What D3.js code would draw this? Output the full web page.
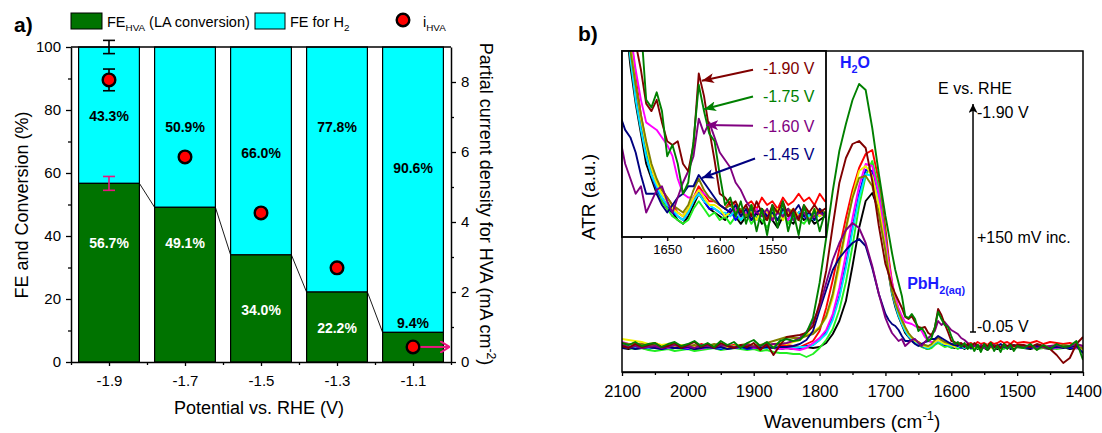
<!DOCTYPE html>
<html>
<head>
<meta charset="utf-8">
<script src="https://cdn.jsdelivr.net/npm/d3@7"></script>
<style>
  body { margin: 0; background: #fff; }
  text { font-family: Arial, "Liberation Sans", sans-serif; }
</style>
</head>
<body>
<svg id="chart" width="1102" height="433"></svg>
<script>
// ---------- panel a data ----------
const potentials = [-1.9, -1.7, -1.5, -1.3, -1.1];
const feHVA = [56.7, 49.1, 34.0, 22.2, 9.4];
const feH2 = [43.3, 50.9, 66.0, 77.8, 90.6];
const iHVA = [8.06, 5.86, 4.26, 2.69, 0.43];
const iHVAErr = [0.31, null, null, null, null];
const feHVAErr = [2.2, null, null, null, null];
const feTotalErr = [2.1, null, null, null, null];
// where the percentage labels sit (FE units)
const h2LabelAt = [78, 74.5, 66.5, 74.5, 61.5];
const hvaLabelAt = [37.8, 37.8, 16.5, 10.8, 12.4];

// ---------- panel b data ----------
const wavenumbers = [
  2100, 2090, 2080, 2070, 2060, 2050, 2040, 2030, 2020, 2010, 2000, 1990, 1980, 1970, 1960, 1950, 1940, 1930, 1920, 1910, 1900, 1890, 1880, 1870, 1860,
  1850, 1840, 1830, 1820, 1810, 1800, 1790, 1780, 1770, 1760, 1750, 1740, 1730, 1720, 1710, 1700,
  1695, 1690, 1685, 1680, 1675, 1670, 1665, 1660, 1655, 1650, 1645, 1640, 1635, 1630, 1625, 1620, 1615, 1610, 1605, 1600,
  1595, 1590, 1585, 1580, 1575, 1570, 1565, 1560, 1555, 1550, 1545, 1540, 1535, 1530, 1525, 1520, 1515, 1510, 1505, 1500,
  1490, 1480, 1470, 1460, 1450, 1440, 1430, 1420, 1410, 1400
];
const atrBlack = [
  -2, -3, -1, -2, -3, -1, -2, -3, -2, -1, -2, -3, -2, -1, -2, -3, -1, -2, -2, -1, -3, -2, -1, -2, -3,
  -2, -3, -2, -1, -2, -1, 3, 12, 25, 45, 80, 118, 145, 153, 135, 98,
  72, 52, 39, 29, 21, 13, 9, 5, 3, 1, 0, -2, -3, -1, 2, 5, 3, 1, 0, -1, -2, 0, -1, -3, -1, -2, 0, -3, -1, -2, -4, -1, -2, -3, 0, -2, -1, -3, -2, -1,
  -2, -3, -1, -2, -3, -2, -1, -3, -2, -3
];
const atrRed = [
  2, 1, 3, 0, 2, 1, -1, 1, 2, 0, 1, -1, 2, 0, 1, 2, 0, 1, -1, 2, 0, 1, 0, 2, 1,
  1, 0, -1, 2, 5, 15, 38, 66, 97, 128, 156, 178, 192, 196, 165, 118,
  88, 64, 48, 36, 26, 18, 12, 8, 6, 4, 2, 0, -1, 1, 4, 7, 5, 3, 3, 2, 1, 3, 2, 0, 2, 3, 1, 4, 2, 3, 1, 4, 2, 3, 5, 3, 4, 2, 5, 3,
  4, 3, 5, 2, 4, 3, 2, 3, 1, 0
];
const atrLime = [
  0, -2, -3, -2, -4, -5, -4, -3, -5, -4, -3, -5, -4, -3, -2, -4, -3, -2, -3, -4, -3, -5, -4, -6, -7,
  -7, -8, -8, -11, -8, -2, 6, 17, 36, 64, 100, 140, 170, 185, 158, 110,
  82, 60, 45, 34, 24, 16, 10, 6, 3, 1, -1, -2, -3, -2, 1, 3, 1, -1, 0, -2, -1, -3, -1, -2, 0, -3, -1, -2, -4, -1, -2, 0, -3, -1, -2, -3, -1, -2, 0, -1,
  -2, -1, -3, -2, -1, -3, -2, -1, 0, -2
];
const atrBlue = [
  -1, -2, 0, -1, -2, -1, -3, -2, -1, -2, -3, -1, -2, -1, -2, -3, -1, -2, -1, -3, -2, -1, -2, -1, -2,
  -1, -2, -2, 0, 1, 6, 14, 28, 50, 82, 118, 152, 176, 175, 150, 105,
  78, 57, 43, 33, 23, 15, 10, 6, 4, 2, 0, -1, -2, 0, 3, 6, 3, 1, 1, 0, -1, 1, -2, 0, -1, 1, -2, 0, -1, -2, 0, -1, 1, -2, 0, -1, -2, 0, -1, 0,
  -1, -2, 0, -1, -2, -1, 0, -2, -1, -3
];
const atrCyan = [
  1, 0, -1, 0, -2, -1, 0, -2, -1, 0, -1, -2, -1, 0, -1, -2, 0, -1, -2, -1, 0, -1, -2, -1, -2,
  -1, -2, -1, -1, 1, 6, 12, 26, 48, 78, 115, 148, 172, 170, 145, 100,
  74, 53, 41, 30, 22, 15, 10, 7, 4, 2, 1, -1, -2, 0, 3, 5, 3, 2, 1, 0, 0, -1, 1, -2, 0, -1, -2, 0, -1, 1, -2, 0, -1, -2, 0, 1, -1, -2, 0, -1,
  -1, 0, -2, -1, 0, -2, -1, 0, -1, -2
];
const atrMagenta = [
  4, 2, 1, 3, 0, -1, 1, -2, 0, -1, -2, 0, -3, -1, -2, 0, -1, -2, -1, 0, -2, -1, 0, -2, -3,
  -2, -3, -4, -2, 3, 8, 16, 32, 58, 92, 128, 160, 182, 180, 152, 105,
  82, 63, 48, 38, 30, 24, 23, 22, 20, 18, 15, 9, 5, 4, 4, 6, 5, 4, 3, 2, 1, 0, 1, -1, 0, -2, 1, -1, 0, -2, 0, -1, -2, 1, -1, 0, -2, -1, 0, -1,
  0, -1, -2, 0, -1, -2, -1, 0, -2, -1
];
const atrYellow = [
  7, 6, 5, 4, 2, 3, 1, 2, 0, 1, -1, 0, 1, -1, 0, 1, -1, 0, 1, 0, -1, 1, 0, 2, 3,
  2, 4, 6, 11, 14, 19, 28, 48, 80, 115, 150, 175, 180, 170, 140, 98,
  76, 57, 44, 34, 25, 18, 12, 8, 5, 3, 1, 0, -1, 1, 4, 6, 4, 2, 2, 1, -1, 0, 2, -1, 1, 0, -2, 1, 0, -1, 1, -2, 0, 1, -1, 0, -2, 1, -1, 0,
  -1, 0, -2, -1, 0, -1, -2, 0, 2, -4
];
const atrOlive = [
  3, 2, 1, 2, 0, 1, -1, 0, 1, -1, 0, 1, -1, 0, 2, 0, 1, -1, 1, 2, 0, 1, 3, 5, 7,
  9, 8, 8, 10, 12, 18, 30, 52, 85, 118, 148, 168, 170, 160, 132, 95,
  72, 55, 43, 34, 26, 19, 13, 9, 6, 4, 2, 1, 0, 2, 6, 9, 6, 4, 3, 2, 1, 2, 0, 1, -1, 2, 0, 1, -2, 1, 0, -1, 1, 0, -2, 1, 0, -1, 1, 0,
  0, -1, 1, -2, 0, -1, 1, 0, -1, -2
];
const atrNavy = [
  -2, -1, -3, -2, -1, -2, -3, -1, -2, -2, -1, -3, -2, -1, -2, -1, -3, -2, -1, -2, -1, -2, -1, -2, -1,
  -1, 0, 2, 6, 15, 36, 56, 76, 88, 96, 103, 107, 100, 78, 52, 32,
  26, 22, 20, 16, 10, 5, 5, 5, 2, 0, 2, 4, 5, 7, 7, 10, 8, 6, 4, 2, 1, 0, 2, -1, 1, -2, 0, 1, -1, 0, -2, 1, -1, 0, 2, -1, 0, -2, 1, -1,
  -1, -2, 0, -1, -2, -1, -2, -1, 0, -7
];
const atrPurple = [
  1, -1, 0, -2, -1, 0, -2, -1, 1, -1, 0, -2, 1, 0, -1, 1, 0, -1, 0, 1, -1, 0, 1, 2, 2,
  3, 5, 8, 14, 24, 39, 63, 86, 103, 116, 123, 118, 103, 80, 52, 28,
  20, 13, 9, 5, 7, 0, 3, 6, 7, 3, 0, 4, 8, 11, 15, 25, 21, 24, 20, 16, 14, 12, 8, 6, 3, 1, 0, -1, 1, -2, 0, -1, 1, -2, -1, 0, -2, -1, 0, -1,
  -1, 0, -2, -1, 0, 1, -1, 0, 2, 0
];
const atrWine = [
  0, -2, 2, -1, 1, 3, -1, 0, 3, -2, 1, 4, -1, 2, -2, 3, 0, -2, 1, -1, 3, -4, 2, -9, 1,
  9, 10, 11, 13, 20, 43, 75, 120, 163, 188, 202, 205, 198, 165, 120, 82,
  72, 60, 52, 45, 38, 29, 27, 30, 24, 19, 18, 19, 13, 11, 18, 37, 31, 22, 14, 5, 4, 2, 3, 0, 2, -1, 3, 0, -2, 2, 0, 3, -1, 1, -2, 2, 0, 2, 0, 1,
  1, -1, 2, 0, -3, -9, -17, -12, 2, 9
];
const atrGreen = [
  3, 1, 4, 0, 2, 3, -1, 2, 4, 0, 2, 5, 0, 3, -1, 5, 1, 4, -2, 3, 6, 0, 4, -2, 5,
  7, 5, 6, 13, 28, 63, 108, 155, 195, 222, 246, 262, 256, 218, 172, 130,
  112, 93, 76, 63, 50, 30, 28, 32, 27, 15, 18, 13, 5, 8, 19, 34, 27, 21, 19, 10, 2, 4, -1, 3, -3, 2, -5, 1, -6, 2, -4, 3, -5, 0, -6, 2, -3, 1, -5, 0,
  -2, 2, -4, 1, -3, 2, -1, 0, 5, -14
];
const insetLabels = ['-1.90 V', '-1.75 V', '-1.60 V', '-1.45 V'];

const traces = [
  { values: atrBlack, color: '#000000' },
  { values: atrRed, color: '#ff0000' },
  { values: atrLime, color: '#22ee22' },
  { values: atrBlue, color: '#0000ff' },
  { values: atrCyan, color: '#00e5ff' },
  { values: atrMagenta, color: '#ff00ff' },
  { values: atrYellow, color: '#f2f200' },
  { values: atrOlive, color: '#808000' },
  { values: atrNavy, color: '#000080' },
  { values: atrPurple, color: '#800080' },
  { values: atrWine, color: '#800000' },
  { values: atrGreen, color: '#008000' }
];

const svg = d3.select('#chart');
const defs = svg.append('defs');
const FONT = 'Arial, "Liberation Sans", sans-serif';

// text with sub/superscripts
function richText(parent, x, y, size, parts) {
  const t = parent.append('text').attr('x', x).attr('y', y).attr('font-size', size);
  let shift = 0;
  parts.forEach(p => {
    const target = p.sub ? size * 0.3 : p.sup ? -size * 0.4 : 0;
    t.append('tspan')
      .attr('dy', target - shift)
      .attr('font-size', p.sub || p.sup ? size * 0.68 : size)
      .text(p.t);
    shift = target;
  });
  return t;
}

function styleAxis(g, size) {
  g.attr('font-family', FONT);
  g.selectAll('path.domain').attr('stroke', '#000').attr('stroke-width', 1.5);
  g.selectAll('line').attr('stroke', '#000').attr('stroke-width', 1.3);
  g.selectAll('text').attr('font-size', size).attr('fill', '#000');
}

function arrowMarker(id, color, w, h) {
  defs.append('marker')
    .attr('id', id)
    .attr('viewBox', `0 0 ${w} ${h}`)
    .attr('refX', w).attr('refY', h / 2)
    .attr('markerWidth', w).attr('markerHeight', h)
    .attr('markerUnits', 'userSpaceOnUse')
    .attr('orient', 'auto')
    .append('path')
    .attr('d', `M0,0 L${w},${h / 2} L0,${h} L${w * 0.25},${h / 2} Z`)
    .attr('fill', color);
}

// ================= panel a =================
const xA = d3.scaleLinear().domain([-2.0, -1.0]).range([71, 451]);
const yFE = d3.scaleLinear().domain([0, 100]).range([362, 47]);
const yI = d3.scaleLinear().domain([0, 9]).range([362, 47]);
const barW = xA(-1.84) - xA(-2.0);
const green = '#007300';
const cyan = '#00ffff';
const pink = '#e8177f';

svg.append('text').attr('x', 14).attr('y', 32).attr('font-size', 21)
  .attr('font-weight', 'bold').text('a)');

// legend
const leg = svg.append('g');
leg.append('rect').attr('x', 71).attr('y', 13).attr('width', 31).attr('height', 16)
  .attr('fill', green).attr('stroke', '#000').attr('stroke-width', 1);
richText(leg, 107, 26.5, 14.5, [{ t: 'FE' }, { t: 'HVA', sub: true }, { t: ' (LA conversion)' }]);
leg.append('rect').attr('x', 255).attr('y', 13).attr('width', 30).attr('height', 16)
  .attr('fill', cyan).attr('stroke', '#000').attr('stroke-width', 1);
richText(leg, 290, 26.5, 14.5, [{ t: 'FE for H' }, { t: '2', sub: true }]);
leg.append('circle').attr('cx', 403).attr('cy', 20).attr('r', 6.3)
  .attr('fill', '#ff0000').attr('stroke', '#000').attr('stroke-width', 2.4);
richText(leg, 423, 26.5, 14.5, [{ t: 'i' }, { t: 'HVA', sub: true }]);

// stacked bars
const bars = svg.append('g').selectAll('g').data(potentials).enter().append('g');
bars.append('rect')
  .attr('x', d => xA(d) - barW / 2)
  .attr('y', (d, i) => yFE(feHVA[i] + feH2[i]))
  .attr('width', barW)
  .attr('height', (d, i) => yFE(feHVA[i]) - yFE(feHVA[i] + feH2[i]))
  .attr('fill', cyan).attr('stroke', '#000').attr('stroke-width', 1.2);
bars.append('rect')
  .attr('x', d => xA(d) - barW / 2)
  .attr('y', (d, i) => yFE(feHVA[i]))
  .attr('width', barW)
  .attr('height', (d, i) => yFE(0) - yFE(feHVA[i]))
  .attr('fill', green).attr('stroke', '#000').attr('stroke-width', 1.2);

// connectors between bar tops
svg.append('g').selectAll('line').data(d3.pairs(d3.range(potentials.length))).enter()
  .append('line')
  .attr('x1', ([a]) => xA(potentials[a]) + barW / 2)
  .attr('y1', ([a]) => yFE(feHVA[a]))
  .attr('x2', ([, b]) => xA(potentials[b]) - barW / 2)
  .attr('y2', ([, b]) => yFE(feHVA[b]))
  .attr('stroke', '#000').attr('stroke-width', 0.9);

// percentage labels
const fmtPct = d => d.toFixed(1) + '%';
bars.append('text')
  .attr('x', d => xA(d)).attr('y', (d, i) => yFE(h2LabelAt[i])).attr('dy', '0.36em')
  .attr('text-anchor', 'middle').attr('font-size', 14).attr('font-weight', 'bold')
  .text((d, i) => fmtPct(feH2[i]));
bars.append('text')
  .attr('x', d => xA(d)).attr('y', (d, i) => yFE(hvaLabelAt[i])).attr('dy', '0.36em')
  .attr('text-anchor', 'middle').attr('font-size', 14).attr('font-weight', 'bold')
  .attr('fill', (d, i) => hvaLabelAt[i] < feHVA[i] ? '#fff' : '#000')
  .text((d, i) => fmtPct(feHVA[i]));

// error bars
function errBar(g, x, yScale, v, e, color) {
  const gg = g.append('g').attr('stroke', color).attr('stroke-width', 1.6);
  gg.append('line').attr('x1', x).attr('x2', x).attr('y1', yScale(v - e)).attr('y2', yScale(v + e));
  gg.append('line').attr('x1', x - 6).attr('x2', x + 6).attr('y1', yScale(v - e)).attr('y2', yScale(v - e));
  gg.append('line').attr('x1', x - 6).attr('x2', x + 6).attr('y1', yScale(v + e)).attr('y2', yScale(v + e));
}
const errG = svg.append('g');
potentials.forEach((p, i) => {
  if (feTotalErr[i] != null) errBar(errG, xA(p), yFE, feHVA[i] + feH2[i], feTotalErr[i], '#000');
  if (feHVAErr[i] != null) errBar(errG, xA(p), yFE, feHVA[i], feHVAErr[i], pink);
  if (iHVAErr[i] != null) errBar(errG, xA(p), yI, iHVA[i], iHVAErr[i], '#000');
});

// pink arrow from last dot to right axis
defs.append('marker')
  .attr('id', 'pinkHead').attr('viewBox', '0 0 10 12')
  .attr('refX', 9.5).attr('refY', 6)
  .attr('markerWidth', 10).attr('markerHeight', 12)
  .attr('markerUnits', 'userSpaceOnUse').attr('orient', 'auto')
  .append('path').attr('d', 'M0,0 L9.5,6 L0,12')
  .attr('fill', 'none').attr('stroke', pink).attr('stroke-width', 2);
const last = potentials.length - 1;
svg.append('line')
  .attr('x1', xA(potentials[last]) + 6).attr('x2', xA.range()[1] - 1.5)
  .attr('y1', yI(iHVA[last])).attr('y2', yI(iHVA[last]))
  .attr('stroke', pink).attr('stroke-width', 2).attr('marker-end', 'url(#pinkHead)');

// current density dots
svg.append('g').selectAll('circle').data(potentials).enter().append('circle')
  .attr('cx', d => xA(d)).attr('cy', (d, i) => yI(iHVA[i])).attr('r', 6.3)
  .attr('fill', '#ff0000').attr('stroke', '#000').attr('stroke-width', 2.4);

// axes panel a
const axL = svg.append('g').attr('transform', `translate(${xA.range()[0]},0)`)
  .call(d3.axisLeft(yFE).tickValues([0, 20, 40, 60, 80, 100]).tickSize(5).tickSizeOuter(0).tickPadding(5));
styleAxis(axL, 15);
const axLm = svg.append('g').attr('transform', `translate(${xA.range()[0]},0)`)
  .call(d3.axisLeft(yFE).tickValues([10, 30, 50, 70, 90]).tickSize(3).tickFormat(''));
axLm.select('path.domain').remove();
styleAxis(axLm, 15);

const axR = svg.append('g').attr('transform', `translate(${xA.range()[1]},0)`)
  .call(d3.axisRight(yI).tickValues([0, 2, 4, 6, 8]).tickSize(5).tickSizeOuter(0).tickPadding(5));
styleAxis(axR, 15);
const axRm = svg.append('g').attr('transform', `translate(${xA.range()[1]},0)`)
  .call(d3.axisRight(yI).tickValues([1, 3, 5, 7]).tickSize(3).tickFormat(''));
axRm.select('path.domain').remove();
styleAxis(axRm, 15);

const axB = svg.append('g').attr('transform', `translate(0,${yFE(0)})`)
  .call(d3.axisBottom(xA).tickValues(potentials).tickSize(4).tickSizeOuter(0).tickPadding(9)
    .tickFormat(d => d.toFixed(1)));
styleAxis(axB, 15);
const axBm = svg.append('g').attr('transform', `translate(0,${yFE(0)})`)
  .call(d3.axisBottom(xA).tickValues([-2.0, -1.8, -1.6, -1.4, -1.2, -1.0]).tickSize(3).tickFormat(''));
axBm.select('path.domain').remove();
styleAxis(axBm, 15);

svg.append('line').attr('x1', xA.range()[0]).attr('x2', xA.range()[1])
  .attr('y1', yFE(100)).attr('y2', yFE(100)).attr('stroke', '#000').attr('stroke-width', 1.5);

svg.append('text').attr('x', 259).attr('y', 414).attr('text-anchor', 'middle')
  .attr('font-size', 18).text('Potential vs. RHE (V)');
svg.append('text').attr('transform', 'translate(28,205) rotate(-90)').attr('text-anchor', 'middle')
  .attr('font-size', 18).text('FE and Conversion (%)');
richText(svg, 0, 0, 18, [{ t: 'Partial current density for HVA (mA cm' }, { t: '-2', sup: true }, { t: ')' }])
  .attr('transform', 'translate(480,204) rotate(90)').attr('text-anchor', 'middle');

// ================= panel b =================
const xB = d3.scaleLinear().domain([2100, 1400]).range([622, 1083]);
const yB = d3.scaleLinear().domain([-26, 295]).range([372, 51]);
const xIn = d3.scaleLinear().domain([1693, 1499]).range([622, 826]);
const yIn = d3.scaleLinear().domain([-6.5, 43]).range([237, 51]);

svg.append('text').attr('x', 578).attr('y', 41).attr('font-size', 21)
  .attr('font-weight', 'bold').text('b)');

defs.append('clipPath').attr('id', 'clipB').append('rect')
  .attr('x', 622).attr('y', 51).attr('width', 461).attr('height', 321);
defs.append('clipPath').attr('id', 'clipIn').append('rect')
  .attr('x', 622).attr('y', 51).attr('width', 204).attr('height', 186);

const mainLine = d3.line().x((d, i) => xB(wavenumbers[i])).y(d => yB(d));
svg.append('g').attr('clip-path', 'url(#clipB)')
  .selectAll('path').data(traces).enter().append('path')
  .attr('d', d => mainLine(d.values))
  .attr('fill', 'none').attr('stroke', d => d.color)
  .attr('stroke-width', 1.9).attr('stroke-linejoin', 'round');

// main frame + x axis
svg.append('rect').attr('x', 622).attr('y', 51).attr('width', 461).attr('height', 321)
  .attr('fill', 'none').attr('stroke', '#000').attr('stroke-width', 1.5);
const axBB = svg.append('g').attr('transform', `translate(0,${yB.range()[0]})`)
  .call(d3.axisBottom(xB).tickValues(d3.range(2100, 1399, -100)).tickSize(4).tickSizeOuter(0)
    .tickPadding(9).tickFormat(d3.format('d')));
styleAxis(axBB, 16.5);
const axBBm = svg.append('g').attr('transform', `translate(0,${yB.range()[0]})`)
  .call(d3.axisBottom(xB).tickValues(d3.range(2050, 1400, -100)).tickSize(3).tickFormat(''));
axBBm.select('path.domain').remove();
styleAxis(axBBm, 16.5);

richText(svg, 852, 428, 19, [{ t: 'Wavenumbers (cm' }, { t: '-1', sup: true }, { t: ')' }])
  .attr('text-anchor', 'middle');
svg.append('text').attr('transform', 'translate(595,197) rotate(-90)').attr('text-anchor', 'middle')
  .attr('font-size', 19).text('ATR (a.u.)');

// annotations in main plot
richText(svg, xB(1769), yB(278), 16, [{ t: 'H' }, { t: '2', sub: true }, { t: 'O' }])
  .attr('font-weight', 'bold').attr('fill', '#1a1aff');
richText(svg, xB(1667), yB(57), 16, [{ t: 'PbH' }, { t: '2(aq)', sub: true }])
  .attr('font-weight', 'bold').attr('fill', '#1a1aff');
svg.append('text').attr('x', xB(1620)).attr('y', yB(252)).attr('font-size', 16).text('E vs. RHE');
arrowMarker('blackHead', '#000', 9, 9);
svg.append('line').attr('x1', xB(1567)).attr('x2', xB(1567)).attr('y1', yB(14)).attr('y2', yB(242))
  .attr('stroke', '#000').attr('stroke-width', 1.5).attr('marker-end', 'url(#blackHead)');
svg.append('line').attr('x1', xB(1567) - 3).attr('x2', xB(1567) + 3).attr('y1', yB(14)).attr('y2', yB(14))
  .attr('stroke', '#000').attr('stroke-width', 1.5);
svg.append('text').attr('x', xB(1561)).attr('y', yB(228)).attr('font-size', 16).text('-1.90 V');
svg.append('text').attr('x', xB(1561)).attr('y', yB(103)).attr('font-size', 16).text('+150 mV inc.');
svg.append('text').attr('x', xB(1561)).attr('y', yB(14)).attr('font-size', 16).text('-0.05 V');

// inset
svg.append('rect').attr('x', 622).attr('y', 51).attr('width', 204).attr('height', 186)
  .attr('fill', '#fff');
const insetLine = d3.line().x((d, i) => xIn(wavenumbers[i])).y(d => yIn(Math.max(-30, Math.min(80, d))));
svg.append('g').attr('clip-path', 'url(#clipIn)')
  .selectAll('path').data(traces).enter().append('path')
  .attr('d', d => insetLine(d.values))
  .attr('fill', 'none').attr('stroke', d => d.color)
  .attr('stroke-width', 1.9).attr('stroke-linejoin', 'round');
svg.append('rect').attr('x', 622).attr('y', 51).attr('width', 204).attr('height', 186)
  .attr('fill', 'none').attr('stroke', '#000').attr('stroke-width', 1.8);
const axIn = svg.append('g').attr('transform', `translate(0,${yIn.range()[0]})`)
  .call(d3.axisBottom(xIn).tickValues([1650, 1600, 1550]).tickSize(4).tickSizeOuter(0)
    .tickPadding(4).tickFormat(d3.format('d')));
axIn.select('path.domain').remove();
styleAxis(axIn, 13);
const axInm = svg.append('g').attr('transform', `translate(0,${yIn.range()[0]})`)
  .call(d3.axisBottom(xIn).tickValues([1675, 1625, 1575, 1525]).tickSize(2).tickFormat(''));
axInm.select('path.domain').remove();
styleAxis(axInm, 13);

// inset arrows: tail (wn, value) -> head (wn, value), label baseline value
const insetArrows = [
  { color: '#800000', tail: [1568.4, 38.0], head: [1617, 35.1], labelAt: 37.0 },
  { color: '#008000', tail: [1568.4, 30.9], head: [1615, 27.5], labelAt: 29.4 },
  { color: '#800080', tail: [1568.4, 23.1], head: [1613, 23.3], labelAt: 21.5 },
  { color: '#000080', tail: [1566.5, 14.4], head: [1617, 9.2], labelAt: 13.9 }
];
insetArrows.forEach((a, i) => {
  arrowMarker('head' + i, a.color, 12, 10);
  svg.append('line')
    .attr('x1', xIn(a.tail[0])).attr('y1', yIn(a.tail[1]))
    .attr('x2', xIn(a.head[0])).attr('y2', yIn(a.head[1]))
    .attr('stroke', a.color).attr('stroke-width', 2).attr('marker-end', `url(#head${i})`);
  svg.append('text').attr('x', xIn(1559)).attr('y', yIn(a.labelAt))
    .attr('font-size', 16).attr('fill', a.color).text(insetLabels[i]);
});
</script>
</body>
</html>
